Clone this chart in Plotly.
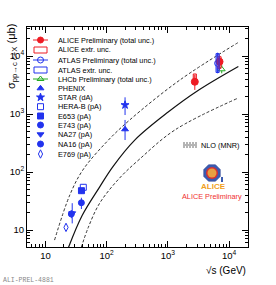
import math
import plotly.graph_objects as go

# ---------------- data ----------------
# ALICE preliminary
alice_sqrts = [2760, 7000]
alice_sigma = [3600, 7980]
alice_tot_hi = [4700, 10300]
alice_tot_lo = [2600, 5800]
alice_extr_hi = [4900, 9730]
alice_extr_lo = [3400, 6140]

# ATLAS preliminary
atlas_sqrts = [6500]
atlas_sigma = [7480]
atlas_tot_hi = [11400]
atlas_tot_lo = [5030]
atlas_extr_hi = [11000]
atlas_extr_lo = [5200]

# LHCb preliminary
lhcb_sqrts = [7600]
lhcb_sigma = [5900]
lhcb_tot_hi = [7000]
lhcb_tot_lo = [5030]

# lower energy data
phenix_sqrts = [200]
phenix_sigma = [545]
phenix_hi = [790]
phenix_lo = [356]

star_sqrts = [200]
star_sigma = [1430]
star_hi = [1940]
star_lo = [960]

herab_sqrts = [41.6]
herab_sigma = [54.5]
herab_hi = [62]
herab_lo = [46]

e653_sqrts = [38.8]
e653_sigma = [47.6]
e653_hi = [53]
e653_lo = [42]

e743_sqrts = [38.7]
e743_sigma = [29.5]
e743_hi = [36]
e743_lo = [23]

na27_sqrts = [27.4]
na27_sigma = [19.4]
na27_hi = [29]
na27_lo = [13]

na16_sqrts = [26.5]
na16_sigma = [18.9]
na16_hi = [22]
na16_lo = [16]

e769_sqrts = [21.7]
e769_sigma = [11.1]
e769_hi = [12.6]
e769_lo = [9.8]

# NLO (MNR) curves
nlo_c_sqrts = [23.8, 39.8, 76.7, 126, 288, 1000, 3160, 14200]
nlo_c_sigma = [5.0, 17.8, 55, 123, 355, 1070, 2570, 6600]
nlo_up_sqrts = [14.1, 25, 40.8, 100, 238, 1574, 13900]
nlo_up_sigma = [6.7, 40, 108, 330, 788, 3855, 16900]
nlo_lo_sqrts = [38.5, 50, 76.7, 158, 348, 1303, 13900]
nlo_lo_sigma = [5.0, 11, 28.8, 76, 168, 530, 1870]

# axis ticks
major_vals = [10, 100, 1000, 10000]
major_text = ["10", "10<sup>2</sup>", "10<sup>3</sup>", "10<sup>4</sup>"]
x_minor = [5, 6, 7, 8, 9, 20, 30, 40, 50, 60, 70, 80, 90, 200, 300, 400, 500, 600, 700, 800, 900,
           2000, 3000, 4000, 5000, 6000, 7000, 8000, 9000, 20000]
y_minor = [6, 7, 8, 9, 20, 30, 40, 50, 60, 70, 80, 90, 200, 300, 400, 500, 600, 700, 800, 900,
           2000, 3000, 4000, 5000, 6000, 7000, 8000, 9000, 20000, 30000]

legend_labels = ["ALICE Preliminary (total unc.)", "ALICE extr. unc.", "ATLAS Preliminary (total unc.)",
                 "ATLAS extr. unc.", "LHCb Preliminary (total unc.)", "PHENIX", "STAR (dA)",
                 "HERA-B (pA)", "E653 (pA)", "E743 (pA)", "NA27 (pA)", "NA16 (pA)", "E769 (pA)"]

# ---------------- style ----------------
W, H = 276, 285
ML, MR, MT, MB = 27, 28, 27, 38
PW, PH = W - ML - MR, H - MT - MB
RED = "#ee1c24"
BLUE = "#2233ee"
GREEN = "#22aa22"
FONT = "Liberation Sans, Arial, sans-serif"


def px(x):
    return (x - ML) / PW


def py(y):
    return (H - MB - y) / PH


def err(hi, lo, v, col):
    return dict(type="data", symmetric=False,
                array=[h - c for h, c in zip(hi, v)],
                arrayminus=[c - l for l, c in zip(lo, v)],
                color=col, thickness=1, width=0)


fig = go.Figure()

# NLO curves
fig.add_trace(go.Scatter(x=nlo_up_sqrts, y=nlo_up_sigma, mode="lines", line=dict(color="#333", width=1, dash="3px,2px", shape="spline", smoothing=1.0), hoverinfo="skip"))
fig.add_trace(go.Scatter(x=nlo_c_sqrts, y=nlo_c_sigma, mode="lines", line=dict(color="#111", width=1.2, shape="spline", smoothing=1.0), hoverinfo="skip"))
fig.add_trace(go.Scatter(x=nlo_lo_sqrts, y=nlo_lo_sigma, mode="lines", line=dict(color="#333", width=1, dash="3px,2px", shape="spline", smoothing=1.0), hoverinfo="skip"))

shapes = []
# extrapolation boxes
for xs, hi, lo, col, fill in [(alice_sqrts, alice_extr_hi, alice_extr_lo, RED, "rgba(238,28,36,0.3)"),
                              (atlas_sqrts, atlas_extr_hi, atlas_extr_lo, BLUE, "rgba(34,51,238,0.5)")]:
    for x, h, l in zip(xs, hi, lo):
        shapes.append(dict(type="rect", xref="x", yref="y", x0=x / 1.06, x1=x * 1.06, y0=l, y1=h,
                           line=dict(color=col, width=1), fillcolor=fill, layer="above"))


def pts(xs, ys, hi, lo, sym, col, size, open_=False):
    fig.add_trace(go.Scatter(x=xs, y=ys, mode="markers", error_y=err(hi, lo, ys, col),
                             marker=dict(symbol=sym, size=size,
                                         color="white" if open_ else col,
                                         line=dict(color=col, width=1)),
                             hoverinfo="skip"))


pts(atlas_sqrts, atlas_sigma, atlas_tot_hi, atlas_tot_lo, "circle", BLUE, 6, True)
pts(lhcb_sqrts, lhcb_sigma, lhcb_tot_hi, lhcb_tot_lo, "triangle-up", GREEN, 6, True)
pts(alice_sqrts, alice_sigma, alice_tot_hi, alice_tot_lo, "circle", RED, 7)
pts(phenix_sqrts, phenix_sigma, phenix_hi, phenix_lo, "triangle-up", BLUE, 6)
pts(star_sqrts, star_sigma, star_hi, star_lo, "star", BLUE, 6)
pts(herab_sqrts, herab_sigma, herab_hi, herab_lo, "square", BLUE, 6, True)
pts(e653_sqrts, e653_sigma, e653_hi, e653_lo, "square", BLUE, 6)
pts(e743_sqrts, e743_sigma, e743_hi, e743_lo, "circle", BLUE, 6)
pts(na27_sqrts, na27_sigma, na27_hi, na27_lo, "triangle-down", BLUE, 6)
pts(na16_sqrts, na16_sigma, na16_hi, na16_lo, "circle", BLUE, 6)
pts(e769_sqrts, e769_sigma, e769_hi, e769_lo, "diamond-tall", BLUE, 6, True)

# ---------------- manual legend ----------------
row_y = [40, 50, 60, 70, 79, 88.3, 97.3, 106.7, 116, 125, 134.3, 144, 154]
lx0, lx1, lxm, ltext = 33, 48, 40.5, 56
annotations = []
for lab, yy in zip(legend_labels, row_y):
    annotations.append(dict(xref="paper", yref="paper", x=px(ltext), y=py(yy), text=lab, showarrow=False,
                            xanchor="left", yanchor="middle", font=dict(size=7.3, family=FONT, color="black")))
for i, col in [(0, RED), (2, BLUE), (4, GREEN)]:
    shapes.append(dict(type="line", xref="paper", yref="paper", x0=px(lx0), x1=px(lx1), y0=py(row_y[i]), y1=py(row_y[i]),
                       line=dict(color=col, width=1)))
for i, col in [(1, RED), (3, BLUE)]:
    shapes.append(dict(type="rect", xref="paper", yref="paper", x0=px(34), x1=px(47), y0=py(row_y[i] + 3), y1=py(row_y[i] - 3),
                       line=dict(color=col, width=1), fillcolor="white"))
leg_sym = [(0, "circle", RED, False), (2, "circle", BLUE, True), (4, "triangle-up", GREEN, True),
           (5, "triangle-up", BLUE, False), (6, "star", BLUE, False), (7, "square", BLUE, True),
           (8, "square", BLUE, False), (9, "circle", BLUE, False), (10, "triangle-down", BLUE, False),
           (11, "circle", BLUE, False), (12, "diamond-tall", BLUE, True)]
for i, s, c, o in leg_sym:
    fig.add_trace(go.Scatter(x=[px(lxm)], y=[py(row_y[i])], xaxis="x2", yaxis="y2", mode="markers",
                             marker=dict(symbol=s, size=6, color="white" if o else c, line=dict(color=c, width=1)),
                             hoverinfo="skip"))

# NLO legend
for k, dsh in enumerate(["2px,1px", "solid", "2px,1px"]):
    yy = 143 + 2 * k
    shapes.append(dict(type="line", xref="paper", yref="paper", x0=px(183), x1=px(197), y0=py(yy), y1=py(yy),
                       line=dict(color="#444", width=0.8, dash=dsh)))
annotations.append(dict(xref="paper", yref="paper", x=px(199), y=py(145), text="NLO (MNR)", showarrow=False,
                        xanchor="left", yanchor="middle", font=dict(size=7.3, family=FONT, color="black")))

# ALICE logo
cx, cy, r = 212, 173, 9
oct_pts = [(cx + r * math.cos(math.radians(22.5 + 45 * k)), cy + r * math.sin(math.radians(22.5 + 45 * k))) for k in range(8)]
path = "M " + " L ".join(f"{px(a):.4f},{py(b):.4f}" for a, b in oct_pts) + " Z"
shapes.append(dict(type="path", xref="paper", yref="paper", path=path, fillcolor="#3a5bb0", line=dict(color="#2a3f90", width=0.5)))
shapes.append(dict(type="circle", xref="paper", yref="paper", x0=px(cx - 6), x1=px(cx + 6), y0=py(cy + 6), y1=py(cy - 6),
                   fillcolor="#d83030", line=dict(width=0)))
shapes.append(dict(type="circle", xref="paper", yref="paper", x0=px(cx - 4.5), x1=px(cx + 4.5), y0=py(cy + 4.5), y1=py(cy - 4.5),
                   fillcolor="#e8a040", line=dict(width=0)))
shapes.append(dict(type="rect", xref="paper", yref="paper", x0=px(221), x1=px(223), y0=py(182), y1=py(177),
                   fillcolor="#3a5bb0", line=dict(width=0)))
annotations.append(dict(xref="paper", yref="paper", x=px(213), y=py(186.5), text="<b>ALICE</b>", showarrow=False,
                        xanchor="center", yanchor="middle", font=dict(size=8, family=FONT, color="#f0a020")))
annotations.append(dict(xref="paper", yref="paper", x=px(211.5), y=py(196), text="ALICE Preliminary", showarrow=False,
                        xanchor="center", yanchor="middle", font=dict(size=7.3, family=FONT, color="#f03030")))

# axis titles
annotations.append(dict(xref="paper", yref="paper", x=px(11.5), y=py(22), text="σ<sub>pp→c c̄+X</sub> (μb)",
                        textangle=-90, showarrow=False, xanchor="center", yanchor="top",
                        font=dict(size=11, family=FONT, color="black")))
annotations.append(dict(xref="paper", yref="paper", x=px(248), y=py(270), text="√s (GeV)", showarrow=False,
                        xanchor="right", yanchor="middle", font=dict(size=10, family=FONT, color="black")))
annotations.append(dict(xref="paper", yref="paper", x=px(1), y=py(280), text="ALI-PREL-4881", showarrow=False,
                        xanchor="left", yanchor="middle", font=dict(size=6.5, family="Liberation Mono, monospace", color="#888")))

axis_common = dict(type="log", showgrid=False, zeroline=False, showline=True, linecolor="black", linewidth=1,
                   mirror="allticks", ticks="inside", ticklen=6, tickcolor="black", automargin=False,
                   tickvals=major_vals, ticktext=major_text, tickfont=dict(size=9.5, family=FONT, color="black"))

fig.update_layout(
    width=W, height=H, margin=dict(l=ML, r=MR, t=MT, b=MB, pad=0, autoexpand=False),
    paper_bgcolor="white", plot_bgcolor="white", showlegend=False,
    xaxis=dict(range=[0.699, 4.31], minor=dict(ticks="inside", ticklen=3, tickvals=x_minor, tickcolor="black", showgrid=False), **axis_common),
    yaxis=dict(range=[0.707, 4.5], minor=dict(ticks="inside", ticklen=3, tickvals=y_minor, tickcolor="black", showgrid=False), **axis_common),
    xaxis2=dict(range=[0, 1], overlaying="x", visible=False, domain=[0, 1]),
    yaxis2=dict(range=[0, 1], overlaying="y", visible=False, domain=[0, 1]),
    shapes=shapes, annotations=annotations,
)

fig.write_html("out.html", config={"displayModeBar": False},
               post_script="document.body.style.margin='0px';document.body.style.overflow='hidden';")
